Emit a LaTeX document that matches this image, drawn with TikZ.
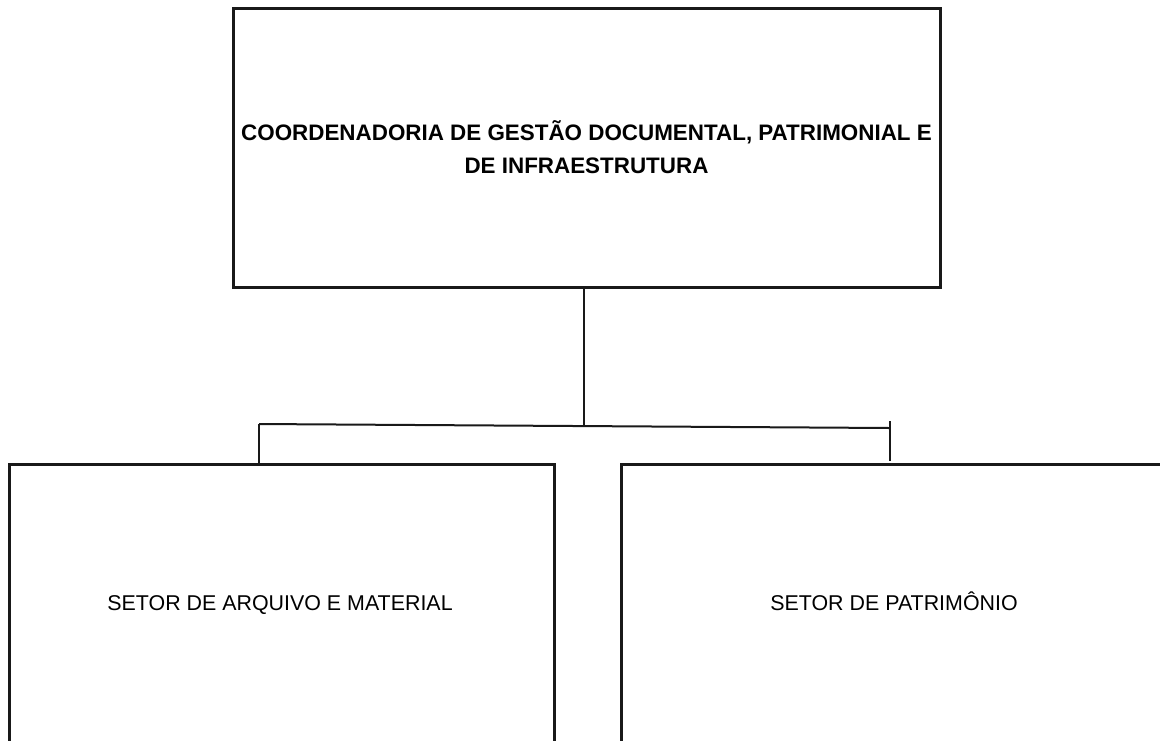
\documentclass[tikz,border=0pt]{standalone}
\usepackage{fontspec}
\setmainfont{Liberation Sans}
\usetikzlibrary{positioning}
\tikzset{
    bx/.style={ % unit boxes
		rectangle,
		fill = white,
		draw=black!90,
		line width=1.5pt,
		text centered,
		inner sep=0pt
		},
    bxtop/.style={ %head unit
    	bx,
    	minimum width=353.5pt,
    	minimum height=139.5pt,
    	font=\bfseries\fontsize{11.2}{16.5}\selectfont
    	},
    bxsub/.style={ %sub units
     	bx,
     	minimum height=160pt
     	},
    lbl/.style={ %sub unit text
     	anchor=base,
     	inner sep=0pt,
     	font=\fontsize{10.7}{13}\selectfont
     	},
    conn/.style={
           draw=black!90,
           line width=1pt
           }
}
\begin{document}
\begin{tikzpicture}[x=0.5pt,y=-0.5pt]
		\useasboundingbox (0,0) rectangle (1160,740);
		\clip (0,0) rectangle (1160,740);
		
		%%%%% node top
		\node[bxtop,align=center] (top) at (586.5,147.5) {
			COORDENADORIA DE GESTÃO DOCUMENTAL, PATRIMONIAL E\\
			DE INFRAESTRUTURA};
		
		%%%%% node arq
		\node[bxsub,minimum width=272.5pt,anchor=north west] (arq) at (8,463) {};
		\node[lbl] (arqt) at (280,610) {SETOR DE ARQUIVO E MATERIAL};
		
		%%%%% node pat
		\node[bxsub,minimum width=300pt,anchor=north west] (pat) at (620,463) {};
		\node[lbl] (patt) at (894,610) {SETOR DE PATRIMÔNIO};
		
		%%%%% junctions
		\coordinate (jm) at (584,426);
		\coordinate (jl) at (259,424);
		\coordinate (jr) at (890,428);
		\coordinate (jrt) at (890,421);
		
		%%%%% edges
		\draw[conn] (top.south -| jm) -- (jm);
		\draw[conn] (jl) -- (jr);
		\draw[conn] (jl) -- (jl |- arq.north);
		\draw[conn] (jrt) -- ([yshift=1pt]jrt |- pat.north);
		
\end{tikzpicture}
\end{document}
